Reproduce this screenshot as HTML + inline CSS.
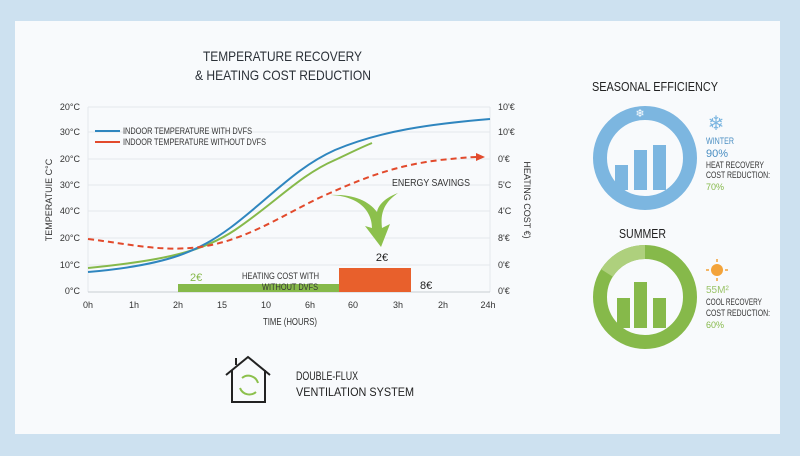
<!DOCTYPE html>
<html><head><meta charset="utf-8"><style>
html,body{margin:0;padding:0}
body{width:800px;height:456px;background:#cde1f0;position:relative;overflow:hidden;font-family:"Liberation Sans",sans-serif}
.card{position:absolute;left:15px;top:21px;width:765px;height:413px;background:#f8fafc}
svg{position:absolute;left:0;top:0}
</style></head><body>
<div class="card"></div>
<svg width="800" height="456" viewBox="0 0 800 456" font-family="Liberation Sans, sans-serif">
<g font-size="14" fill="#2b3138">
<text x="203" y="61" textLength="159" lengthAdjust="spacingAndGlyphs">TEMPERATURE RECOVERY</text>
<text x="195" y="80" textLength="176" lengthAdjust="spacingAndGlyphs">&amp; HEATING COST REDUCTION</text>
</g>
<g stroke="#e4e8ec" stroke-width="1">
<line x1="88" y1="107" x2="490" y2="107"/><line x1="88" y1="132" x2="490" y2="132"/>
<line x1="88" y1="159" x2="490" y2="159"/><line x1="88" y1="185" x2="490" y2="185"/>
<line x1="88" y1="211" x2="490" y2="211"/><line x1="88" y1="238" x2="490" y2="238"/>
<line x1="88" y1="265" x2="490" y2="265"/><line x1="88" y1="107" x2="88" y2="292"/>
<line x1="490" y1="107" x2="490" y2="292"/>
</g>
<line x1="88" y1="292" x2="490" y2="292" stroke="#c8cdd2"/>
<g font-size="9" fill="#333" text-anchor="end">
<text x="80" y="110">20°C</text><text x="80" y="135">30°C</text><text x="80" y="162">20°C</text>
<text x="80" y="188">30°C</text><text x="80" y="214">40°C</text><text x="80" y="241">20°C</text>
<text x="80" y="268">10°C</text><text x="80" y="294">0°C</text>
</g>
<g font-size="9" fill="#333">
<text x="498" y="110">10'€</text><text x="498" y="135">10'€</text><text x="498" y="162">0'€</text>
<text x="498" y="188">5'C</text><text x="498" y="214">4'C</text><text x="498" y="241">8'€</text>
<text x="498" y="268">0'€</text><text x="498" y="294">0'€</text>
</g>
<text transform="translate(52,200) rotate(-90)" font-size="9" fill="#333" text-anchor="middle">TEMPERATUIE C°C</text>
<text transform="translate(524,200) rotate(90)" font-size="9" fill="#333" text-anchor="middle">HEATING COST €)</text>
<g font-size="9" fill="#333" text-anchor="middle">
<text x="88" y="308">0h</text><text x="134" y="308">1h</text><text x="178" y="308">2h</text>
<text x="222" y="308">15</text><text x="266" y="308">10</text><text x="310" y="308">6h</text>
<text x="353" y="308">60</text><text x="398" y="308">3h</text><text x="443" y="308">2h</text>
<text x="488" y="308">24h</text>
</g>
<text x="263" y="325" font-size="10" fill="#333" textLength="54" lengthAdjust="spacingAndGlyphs">TIME (HOURS)</text>
<line x1="95" y1="131" x2="120" y2="131" stroke="#2f86bf" stroke-width="2"/>
<line x1="95" y1="142" x2="120" y2="142" stroke="#e24a2c" stroke-width="2"/>
<g font-size="9" fill="#333"><text x="123" y="134" textLength="129" lengthAdjust="spacingAndGlyphs">INDOOR TEMPERATURE WITH DVFS</text><text x="123" y="145" textLength="143" lengthAdjust="spacingAndGlyphs">INDOOR TEMPERATURE WITHOUT DVFS</text></g>
<rect x="178" y="284" width="161" height="8" fill="#86b94a"/>
<rect x="339" y="268" width="72" height="24" fill="#e8602c"/>
<text x="190" y="281" font-size="11" fill="#86b94a">2€</text>
<text x="242" y="279" font-size="9" fill="#333" textLength="77" lengthAdjust="spacingAndGlyphs">HEATING COST WITH</text>
<text x="262" y="290" font-size="9" fill="#333" textLength="56" lengthAdjust="spacingAndGlyphs">WITHOUT DVFS</text>
<text x="382" y="261" font-size="11" fill="#222" text-anchor="middle">2€</text>
<text x="420" y="289" font-size="11" fill="#222">8€</text>
<path d="M88,268 C170,260 205,250 235,230 C275,203 300,175 335,160 C352,152 362,147 372,143" stroke="#86b94a" stroke-width="2" fill="none"/>
<path d="M88,272 C170,265 200,250 230,228 C270,198 295,168 335,150 C380,131 430,124 490,119" stroke="#2f86bf" stroke-width="2" fill="none"/>
<path d="M88,239 C130,244 160,252 200,247 C250,240 290,210 330,193 C370,175 400,165 440,160 C460,158 470,157 478,157" stroke="#e24a2c" stroke-width="2" stroke-dasharray="6,4" fill="none"/>
<path d="M476,153 L485,157 L476,161 Z" fill="#e24a2c"/>
<text x="392" y="186" font-size="10" fill="#333" textLength="78" lengthAdjust="spacingAndGlyphs">ENERGY SAVINGS</text>
<path d="M330,195 C360,196 372,212 372,228 L365,226 L381,247 L390,224 L382,228 C380,212 385,202 398,193 C385,198 378,205 377,212 C368,200 352,194 330,195 Z" fill="#8cc04c"/>
<g fill="none" stroke="#222" stroke-width="2"><path d="M226,375 L248,357 L270,375"/><path d="M232,370 V402 H265 V370"/><path d="M236,365 V358"/></g>
<g fill="none" stroke="#8cc04c" stroke-width="2"><path d="M242,378 A10,10 0 0 1 258,383"/><path d="M256,392 A10,10 0 0 1 240,388"/></g>
<text x="296" y="380" font-size="12" fill="#222" textLength="62" lengthAdjust="spacingAndGlyphs">DOUBLE-FLUX</text>
<text x="296" y="396" font-size="12" fill="#222" textLength="118" lengthAdjust="spacingAndGlyphs">VENTILATION SYSTEM</text>
<text x="592" y="91" font-size="13" fill="#222" textLength="126" lengthAdjust="spacingAndGlyphs">SEASONAL EFFICIENCY</text>
<circle cx="645" cy="158" r="45" fill="none" stroke="#7cb6e0" stroke-width="14"/>
<g fill="#7cb6e0"><rect x="615" y="165" width="13" height="25"/><rect x="634" y="150" width="13" height="40"/><rect x="653" y="145" width="13" height="45"/></g>
<text x="640" y="117" font-size="11" fill="#fff" text-anchor="middle">❄</text>
<text x="716" y="130" font-size="20" fill="#7cb6e0" text-anchor="middle">❄</text>
<g font-size="9"><text x="706" y="144" fill="#4a8ec2" textLength="28" lengthAdjust="spacingAndGlyphs">WINTER</text><text x="706" y="157" font-size="11" fill="#4a8ec2">90%</text>
<text x="706" y="168" fill="#333" textLength="58" lengthAdjust="spacingAndGlyphs">HEAT RECOVERY</text><text x="706" y="178" fill="#333" textLength="64" lengthAdjust="spacingAndGlyphs">COST REDUCTION:</text><text x="706" y="190" fill="#86b94a">70%</text></g>
<text x="619" y="238" font-size="13" fill="#222" textLength="47" lengthAdjust="spacingAndGlyphs">SUMMER</text>
<circle cx="645" cy="297" r="45" fill="none" stroke="#86b94a" stroke-width="14"/>
<path d="M645,252 A45,45 0 0 0 607,273" fill="none" stroke="#aed07d" stroke-width="14"/>
<g fill="#86b94a"><rect x="617" y="298" width="13" height="30"/><rect x="634" y="282" width="13" height="46"/><rect x="653" y="298" width="13" height="30"/></g>
<circle cx="717" cy="270" r="6" fill="#f3a33a"/>
<g stroke="#f3a33a" stroke-width="1.5"><line x1="717" y1="259" x2="717" y2="262"/><line x1="717" y1="278" x2="717" y2="281"/><line x1="706" y1="270" x2="709" y2="270"/><line x1="725" y1="270" x2="728" y2="270"/></g>
<g font-size="9"><text x="706" y="293" font-size="10" fill="#9bc46a">55M²</text>
<text x="706" y="305" fill="#333" textLength="56" lengthAdjust="spacingAndGlyphs">COOL RECOVERY</text><text x="706" y="316" fill="#333" textLength="64" lengthAdjust="spacingAndGlyphs">COST REDUCTION:</text><text x="706" y="328" fill="#86b94a">60%</text></g>
</svg>
</body></html>
